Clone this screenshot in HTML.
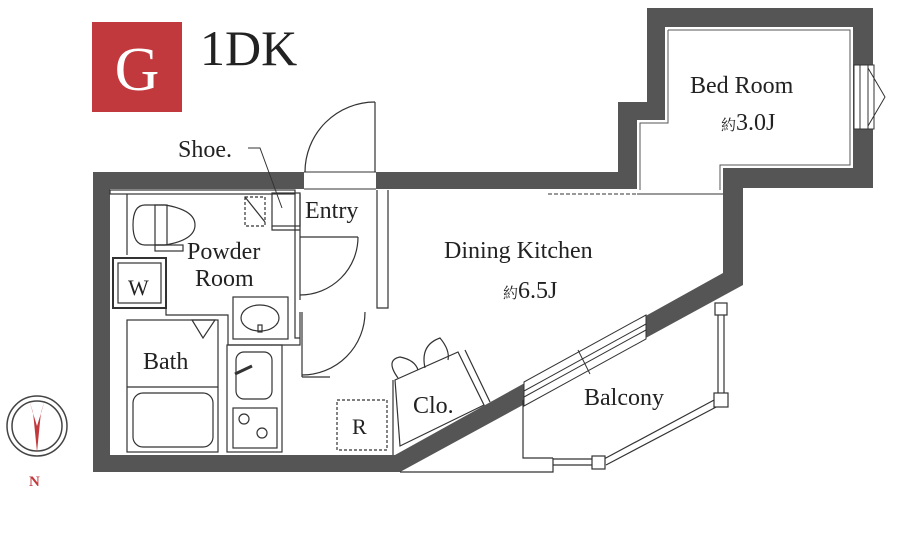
<!DOCTYPE html>
<html><head><meta charset="utf-8"><style>
html,body{margin:0;padding:0;background:#fff;}
svg{display:block}
text{font-family:"Liberation Serif","Noto Serif CJK SC",serif;fill:#222}
</style></head><body>
<svg width="920" height="545" viewBox="0 0 920 545" xmlns="http://www.w3.org/2000/svg">
<!-- G badge -->
<rect x="92" y="22" width="90" height="90" fill="#c1393d"/>
<text x="137" y="90" font-size="62" text-anchor="middle" style="fill:#fff">G</text>
<text x="200" y="65" font-size="50">1DK</text>

<!-- outer walls -->
<path fill="#555" fill-rule="evenodd" d="
M93,172 L618,172 L618,102 L647,102 L647,8 L873,8 L873,188 L743,188 L743,285 L400,472 L93,472 Z
M110,189 L110,455 L395,455 L723,273 L723,168 L853,168 L853,27 L665,27 L665,120 L637,120 L637,189 Z"/>
<path d="M668,30 L850,30 L850,165 L720,165 L720,190 M668,30 L668,123 L640,123 L640,190" fill="none" stroke="#555" stroke-width="1"/>
<!-- door opening top wall -->
<rect x="304" y="171" width="72" height="20" fill="#fff"/>
<line x1="304" y1="172" x2="376" y2="172" stroke="#333"/>
<line x1="304" y1="189" x2="376" y2="189" stroke="#333"/>
<!-- bedroom window -->
<rect x="854" y="65" width="20" height="64" fill="#fff" stroke="#333"/>
<line x1="860" y1="65" x2="860" y2="129" stroke="#333"/>
<line x1="868" y1="65" x2="868" y2="129" stroke="#333"/>
<path d="M868,68 L885,97 L868,126" fill="none" stroke="#333"/>
<!-- diagonal windows -->
<polygon points="524,382 646,315 646,339 524,406" fill="#fff" stroke="#333"/>
<line x1="524" y1="391" x2="646" y2="324" stroke="#333"/>
<line x1="524" y1="397" x2="646" y2="330" stroke="#333"/>
<line x1="578" y1="350" x2="590" y2="374" stroke="#333"/>
<!-- bedroom/DK opening line -->
<line x1="637" y1="194" x2="723" y2="194" stroke="#333"/>
<line x1="548" y1="194" x2="637" y2="194" stroke="#333" stroke-dasharray="4,2"/>

<!-- balcony -->
<g fill="none" stroke="#333" stroke-width="1.2">
<path d="M523,400 L523,458 L553,458"/>
<path d="M400,472 L553,472 L553,458"/>
<path d="M553,459 L598,459 M553,465 L598,465"/>
<path d="M604,459 L716,399 M606,465 L720,405"/>
<path d="M718,315 L718,393 M724,315 L724,393"/>
<rect x="715" y="303" width="12" height="12" fill="#fff"/>
<rect x="714" y="393" width="14" height="14" fill="#fff"/>
<rect x="592" y="456" width="13" height="13" fill="#fff"/>
</g>

<!-- interior -->
<g fill="none" stroke="#333" stroke-width="1.2">
<rect x="110" y="190" width="185" height="4"/>
<line x1="127" y1="194" x2="127" y2="255"/>
<path d="M145,205 L165,205 Q195,210 195,225 Q195,240 165,245 L145,245 Q133,245 133,225 Q133,205 145,205 Z"/>
<rect x="155" y="205" width="12" height="40"/>
<rect x="155" y="245" width="28" height="6"/>
<rect x="113" y="258" width="53" height="50" stroke-width="2"/>
<rect x="118" y="263" width="43" height="40"/>
<rect x="127" y="320" width="91" height="132"/>
<line x1="127" y1="387" x2="218" y2="387"/>
<rect x="133" y="393" width="80" height="54" rx="10"/>
<path d="M192,320 L215,320 L203,338 Z"/>
<path d="M166,308 L166,315 L228,315 L228,345"/>
<rect x="227" y="345" width="55" height="107"/>
<rect x="236" y="352" width="36" height="47" rx="8"/>
<line x1="235" y1="374" x2="252" y2="366" stroke-width="3"/>
<rect x="233" y="408" width="44" height="40"/>
<circle cx="244" cy="419" r="5"/><circle cx="262" cy="433" r="5"/>
<rect x="233" y="297" width="55" height="42"/>
<ellipse cx="260" cy="318" rx="19" ry="13"/>
<rect x="258" y="325" width="4" height="7"/>
<path d="M228,345 L300,345 L300,312 M295,194 L295,338 L300,338"/>
<path d="M300,194 L300,300"/>
<rect x="272" y="193" width="28" height="33"/>
<rect x="245" y="197" width="20" height="29" stroke-dasharray="3,2"/>
<line x1="245" y1="197" x2="265" y2="222"/>
<path d="M272,226 L272,230 L300,230"/>
<path d="M248,148 L260,148 L282,208" stroke-width="1"/>
<path d="M377,190 L377,308 L388,308 L388,190"/>
<line x1="375" y1="102" x2="375" y2="172"/>
<path d="M305,172 A70,70 0 0 1 375,102"/>
<line x1="300" y1="237" x2="358" y2="237"/>
<path d="M358,237 A58,58 0 0 1 300,295"/>
<line x1="302" y1="377" x2="330" y2="377"/>
<line x1="302" y1="312" x2="302" y2="377"/>
<path d="M365,312 A63,63 0 0 1 302,375"/>
<rect x="337" y="400" width="50" height="50" stroke-dasharray="3,2"/>
<line x1="393" y1="380" x2="393" y2="455"/>
<polygon points="395,380 458,352 484,405 400,446"/>
<line x1="465" y1="350" x2="490" y2="402"/>
<path d="M398,378 Q385,360 400,357 Q415,360 418,370"/>
<path d="M425,368 Q420,345 440,338 Q450,350 448,360"/>
</g>

<!-- compass -->
<g fill="none" stroke="#444" stroke-width="1.5">
<circle cx="37" cy="426" r="30"/>
<circle cx="37" cy="426" r="25"/>
</g>
<path d="M29,400 L37,426 L45,400 L41,412 L37,452 L33,412 Z" fill="#c1393d"/>
<text x="29" y="486" font-size="15" style="fill:#c1393d" font-weight="bold">N</text>

<!-- labels -->
<g font-size="24">
<text x="178" y="157">Shoe.</text>
<text x="305" y="218">Entry</text>
<text x="187" y="259">Powder</text>
<text x="195" y="286">Room</text>
<text x="128" y="295" font-size="22">W</text>
<text x="143" y="369">Bath</text>
<text x="352" y="434" font-size="22">R</text>
<text x="413" y="413">Clo.</text>
<text x="444" y="258">Dining Kitchen</text>
<text x="503" y="298"><tspan font-size="15">約</tspan>6.5J</text>
<text x="690" y="93">Bed Room</text>
<text x="721" y="130"><tspan font-size="15">約</tspan>3.0J</text>
<text x="584" y="405">Balcony</text>
</g>
</svg>
</body></html>
